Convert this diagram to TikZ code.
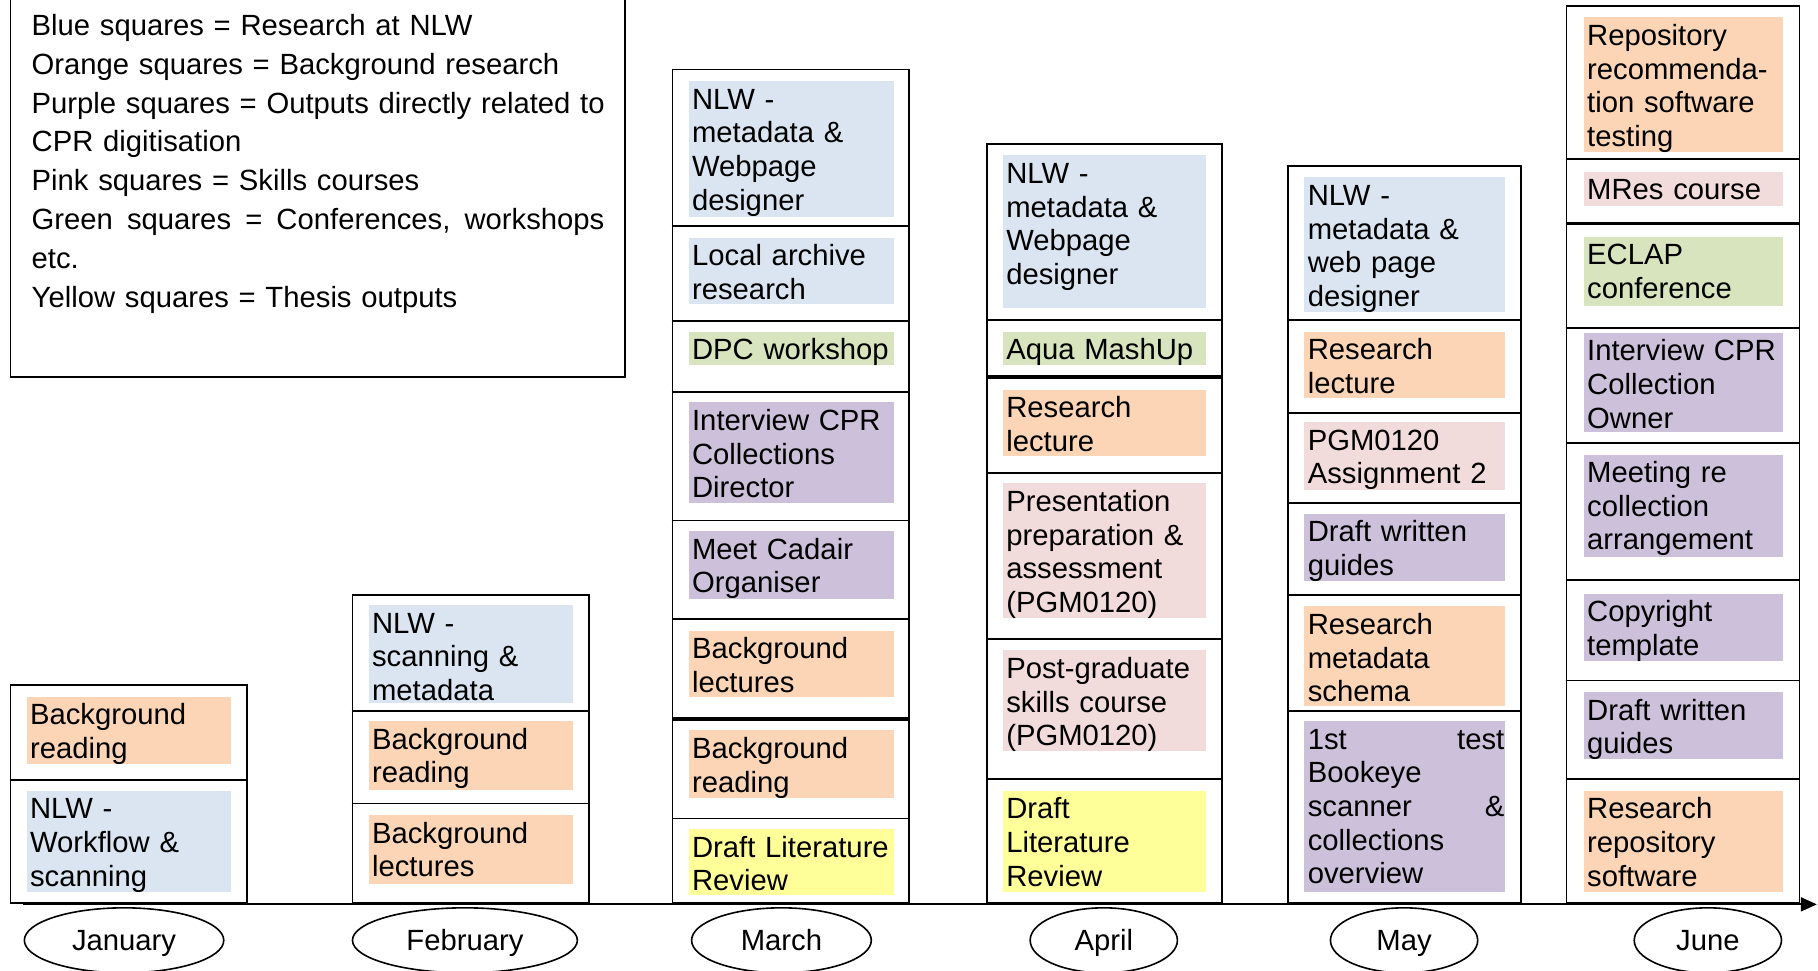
\documentclass[tikz,border=0pt]{standalone}
\usepackage{fontspec}
\setmainfont{Liberation Sans}
\usetikzlibrary{shapes.geometric,arrows.meta}

\definecolor{nlwblue}{HTML}{DBE5F1}
\definecolor{bgorange}{HTML}{FBD5B5}
\definecolor{cprpurple}{HTML}{CCC0DA}
\definecolor{skillpink}{HTML}{F2DCDB}
\definecolor{confgreen}{HTML}{D7E4BD}
\definecolor{thesisyellow}{HTML}{FFFF99}

\newcommand\cellfont{\fontsize{14.63}{16.82}\selectfont}
\newcommand\legendfont{\fontsize{14.63}{19.47}\selectfont}

% one coloured activity square: name, x1, y1, x2, y2, colour, text
\newcommand\cell[7]{%
  \pgfmathsetmacro\cellW{(#4-#2)*0.58}%
  \pgfmathsetmacro\cellH{(#5-#3)*0.58}%
  \pgfmathsetmacro\cellT{\cellW-2}%
  \node[cellfill, fill=#6, minimum width=\cellW pt, minimum height=\cellH pt]
    (#1) at ({(#2+#4)/2},{(#3+#5)/2}) {};
  \node[celltext, text width=\cellT pt] (#1-t) at (#1.north west) {\strut #7};
}
% two words pushed to both edges of the current square
\newcommand\spreadline[2]{\leavevmode\hbox to \cellT pt{#1\hfill #2}}
% outline of one month's stack: name, x1, y1, x2, y2
\newcommand\monthcol[5]{%
  \pgfmathsetmacro\cellW{(#4-#2)*0.58}%
  \pgfmathsetmacro\cellH{(#5-#3)*0.58}%
  \node[colbox, minimum width=\cellW pt, minimum height=\cellH pt]
    (#1) at ({(#2+#4)/2},{(#3+#5)/2}) {};
}
% horizontal rule across a month's stack
\newcommand\rowline[3][]{\draw[colline,#1] (#2.west |- 0,#3) -- (#2.east |- 0,#3);}
% month ellipse: name, centre x, width, text
\newcommand\monthlabel[4]{%
  \pgfmathsetmacro\cellW{#3*0.58}%
  \node[monthoval, minimum width=\cellW pt] (#1) at (#2,811) {#4};
}

\begin{document}
\begin{tikzpicture}[x=0.58pt, y=-0.58pt,
  cellfill/.style={rectangle, draw=none, inner sep=0pt, outer sep=0pt},
  celltext/.style={anchor=north west, inner xsep=1.5pt, inner ysep=2.1pt,
    align=left, font=\cellfont},
  colbox/.style={rectangle, draw, line width=0.9pt, inner sep=0pt},
  colline/.style={line width=0.9pt},
  heavy/.style={line width=1.7pt},
  monthoval/.style={ellipse, draw, line width=0.8pt, minimum height=32.5pt,
    inner sep=0pt, text height=12.5pt, text depth=2pt, font=\cellfont},
  timeaxis/.style={line width=1pt, -{Triangle[length=8pt,width=7pt]}}
]
\useasboundingbox (0,0) rectangle (1568,837);

% legend
\pgfmathsetmacro\cellW{530*0.58}
\pgfmathsetmacro\cellH{328*0.58}
\node[colbox, minimum width=\cellW pt, minimum height=\cellH pt] (legend) at (274,161) {};
\node[anchor=north west, inner sep=0pt, align=left, text width=286.5pt,
  font=\legendfont] (legendtext) at (27,6.5) {\strut Blue squares = Research at NLW\\
Orange squares = Background research\\
\mbox{Purple squares = Outputs directly related to}\\
CPR digitisation\\
Pink squares = Skills courses\\
\leavevmode\hbox to 286.5pt{Green\hfill squares\hfill =\hfill Conferences,\hfill workshops}\\
etc.\\
Yellow squares = Thesis outputs};

% month stacks
\monthcol{jan}{9}{591}{213}{779}
\rowline{jan}{673}
\monthcol{feb}{304}{513}{508}{779}
\rowline{feb}{613}
\rowline{feb}{693}
\monthcol{mar}{580}{60}{784}{779}
\rowline{mar}{195}
\rowline{mar}{277}
\rowline{mar}{338}
\rowline{mar}{449}
\rowline{mar}{534}
\rowline[heavy]{mar}{620}
\rowline{mar}{706}
\monthcol{apr}{851}{124}{1054}{779}
\rowline{apr}{276}
\rowline[heavy]{apr}{325}
\rowline{apr}{408}
\rowline{apr}{551}
\rowline{apr}{672}
\monthcol{may}{1111}{143}{1312}{779}
\rowline{may}{276}
\rowline{may}{356}
\rowline{may}{434}
\rowline{may}{513}
\rowline{may}{613}
\monthcol{jun}{1351}{5}{1552}{779}
\rowline[line width=1.3pt]{jun}{137}
\rowline[line width=1.3pt]{jun}{193}
\rowline{jun}{283}
\rowline{jun}{382}
\rowline{jun}{500}
\rowline{jun}{587}
\rowline{jun}{672}

% January
\cell{jan1}{23}{601}{199}{659}{bgorange}{Background\\reading}
\cell{jan2}{23}{682}{199}{769}{nlwblue}{NLW -\\Workflow \&\\scanning}

% February
\cell{feb1}{318}{522}{494}{606}{nlwblue}{NLW -\\scanning \&\\metadata}
\cell{feb2}{318}{622}{494}{681}{bgorange}{Background\\reading}
\cell{feb3}{318}{703}{494}{762}{bgorange}{Background\\lectures}

% March
\cell{mar1}{594}{70}{771}{187}{nlwblue}{NLW -\\metadata \&\\Webpage\\designer}
\cell{mar2}{594}{205}{771}{262}{nlwblue}{Local archive\\research}
\cell{mar3}{594}{286}{771}{315}{confgreen}{DPC workshop}
\cell{mar4}{594}{347}{771}{434}{cprpurple}{Interview CPR\\Collections\\Director}
\cell{mar5}{594}{458}{771}{517}{cprpurple}{Meet Cadair\\Organiser}
\cell{mar6}{594}{544}{771}{601}{bgorange}{Background\\lectures}
\cell{mar7}{594}{630}{771}{688}{bgorange}{Background\\reading}
\cell{mar8}{594}{715}{771}{772}{thesisyellow}{Draft Literature\\Review}

% April
\cell{apr1}{865}{134}{1040}{266}{nlwblue}{NLW -\\metadata \&\\Webpage\\designer}
\cell{apr2}{865}{286}{1040}{315}{confgreen}{Aqua MashUp}
\cell{apr3}{865}{336}{1040}{393}{bgorange}{Research\\lecture}
\cell{apr4}{865}{417}{1040}{533}{skillpink}{Presentation\\preparation \&\\assessment\\(PGM0120)}
\cell{apr5}{865}{561}{1040}{648}{skillpink}{Post-graduate\\skills course\\(PGM0120)}
\cell{apr6}{865}{682}{1040}{769}{thesisyellow}{Draft\\Literature\\Review}

% May
\cell{may1}{1125}{153}{1298}{269}{nlwblue}{NLW -\\metadata \&\\web page\\designer}
\cell{may2}{1125}{286}{1298}{343}{bgorange}{Research\\lecture}
\cell{may3}{1125}{364}{1298}{423}{skillpink}{PGM0120\\Assignment 2}
\cell{may4}{1125}{443}{1298}{501}{cprpurple}{Draft written\\guides}
\cell{may5}{1125}{523}{1298}{609}{bgorange}{Research\\metadata\\schema}
\cell{may6}{1125}{622}{1298}{769}{cprpurple}{\spreadline{1st}{test}\\Bookeye\\\spreadline{scanner}{\&}\\collections\\overview}

% June
\cell{jun1}{1366}{15}{1538}{131}{bgorange}{Repository\\recommenda-\\tion software\\testing}
\cell{jun2}{1366}{148}{1538}{178}{skillpink}{MRes course}
\cell{jun3}{1366}{204}{1538}{264}{confgreen}{ECLAP\\conference}
\cell{jun4}{1366}{287}{1538}{373}{cprpurple}{Interview CPR\\Collection\\Owner}
\cell{jun5}{1366}{392}{1538}{480}{cprpurple}{Meeting re\\collection\\arrangement}
\cell{jun6}{1366}{512}{1538}{570}{cprpurple}{Copyright\\template}
\cell{jun7}{1366}{597}{1538}{655}{cprpurple}{Draft written\\guides}
\cell{jun8}{1366}{682}{1538}{769}{bgorange}{Research\\repository\\software}

% time axis
\coordinate (axisstart) at (20,780);
\coordinate (axisend) at (1567,780);
\draw[timeaxis] (axisstart) -- (axisend);

% month labels
\monthlabel{janlab}{107}{172}{January}
\monthlabel{feblab}{401}{194}{February}
\monthlabel{marlab}{674}{155}{March}
\monthlabel{aprlab}{952}{127}{April}
\monthlabel{maylab}{1211}{127}{May}
\monthlabel{junlab}{1473}{127}{June}
\end{tikzpicture}
\end{document}
